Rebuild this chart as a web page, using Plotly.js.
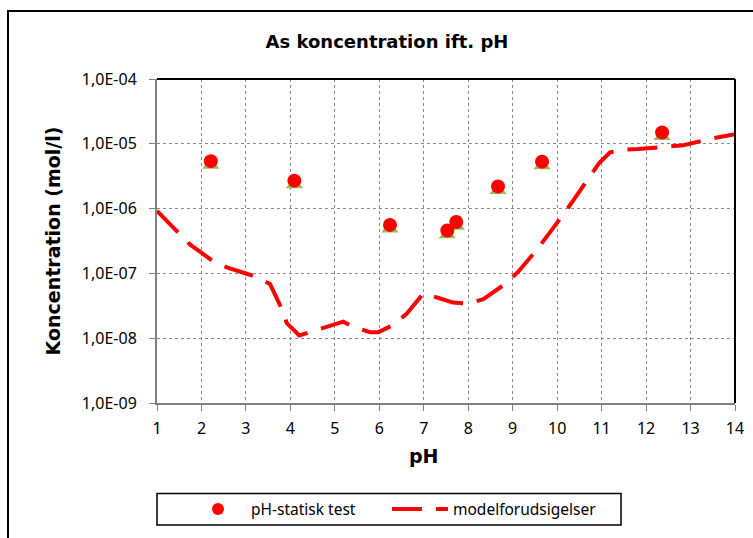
<!DOCTYPE html>
<html>
<head>
<meta charset="utf-8">
<script src="https://cdn.plot.ly/plotly-3.0.1.min.js"></script>
<style>
html,body{margin:0;padding:0;background:#fff;}
#chart{width:753px;height:538px;}
</style>
</head>
<body>
<div id="chart"></div>
<script>
// ---- data ----
const testPH   = [2.21, 4.09, 6.24, 7.53, 7.73, 8.67, 9.66, 12.36];
const testConc = [5.4e-6, 2.7e-6, 5.6e-7, 4.6e-7, 6.2e-7, 2.2e-6, 5.3e-6, 1.5e-5];

const modelPH   = [1.0, 1.44, 1.74, 2.23, 2.57, 3.2, 3.54, 3.80, 3.92, 4.2, 4.44, 5.19, 5.41, 5.79, 5.98,
                   6.32, 6.62, 6.99, 7.37, 7.66, 8.0, 8.34, 8.86, 9.13, 9.54, 9.77, 10.16, 10.36, 10.74,
                   10.94, 11.19, 11.49, 11.83, 12.5, 12.84, 13.48, 14.0];
const modelConc = [9.2e-7, 4.5e-7, 2.8e-7, 1.6e-7, 1.24e-7, 9.0e-8, 6.9e-8, 2.9e-8, 1.7e-8, 1.1e-8, 1.23e-8,
                   1.8e-8, 1.5e-8, 1.24e-8, 1.24e-8, 1.6e-8, 2.4e-8, 4.9e-8, 4.1e-8, 3.55e-8, 3.4e-8, 4.0e-8,
                   7.1e-8, 1.07e-7, 2.3e-7, 3.7e-7, 8.5e-7, 1.33e-6, 3.2e-6, 5.0e-6, 7.4e-6, 8.1e-6, 8.3e-6,
                   9.0e-6, 9.5e-6, 1.21e-5, 1.41e-5];

const xTickVals = [1, 2, 3, 4, 5, 6, 7, 8, 9, 10, 11, 12, 13, 14];
const yTickVals = [1e-9, 1e-8, 1e-7, 1e-6, 1e-5, 1e-4];
const yTickText = ["1,0E-09", "1,0E-08", "1,0E-07", "1,0E-06", "1,0E-05", "1,0E-04"];

const seriesNames = ["pH-statisk test", "modelforudsigelser"];
const chartTitle = "As koncentration ift. pH";
const xTitle = "pH";
const yTitle = "Koncentration (mol/l)";

// ---- layout geometry (pixels) ----
const W = 753, H = 538;
const L = 157, R = 735, T = 79, B = 408;
const px = v => (v - L) / (R - L);
const py = v => (B - v) / (B - T);
const decadePx = (B - T) / 5;
const triShift = 4 / decadePx; // triangles drawn a few px lower, as in the reference

const tickFont = {family: "Noto Sans, sans-serif", size: 16, color: "#000"};
const boldFont = {family: "DejaVu Sans, sans-serif", weight: 700, color: "#000"};
const legendFont = {family: "Noto Sans, sans-serif", size: 15.5, color: "#000"};

const traces = [
  {
    x: testPH, y: testConc, type: "scatter", mode: "markers",
    xaxis: "x", yaxis: "y2", showlegend: false, hoverinfo: "skip",
    marker: {symbol: "triangle-up", size: 15, color: "#9BBB59"}
  },
  {
    x: testPH, y: testConc, type: "scatter", mode: "markers", name: seriesNames[0],
    xaxis: "x", yaxis: "y3", legend: "legend",
    marker: {symbol: "circle", size: 14, color: "#FF0000"}
  },
  {
    x: modelPH, y: modelConc, type: "scatter", mode: "lines", name: seriesNames[1],
    xaxis: "x", yaxis: "y", legend: "legend2",
    line: {color: "#FF0000", width: 4, dash: "30px,14px"}
  }
];

const axisCommon = {
  showgrid: true, gridcolor: "#8a8a8a", griddash: "dot", gridwidth: 1,
  showline: true, linecolor: "#808080", linewidth: 2,
  ticks: "outside", ticklen: 6, tickcolor: "#808080", tickwidth: 1,
  tickfont: tickFont, zeroline: false, fixedrange: true
};

const legendCommon = {
  orientation: "h", xanchor: "left", y: py(516), yanchor: "middle",
  bgcolor: "rgba(0,0,0,0)", borderwidth: 0, font: legendFont, itemwidth: 56
};

const layout = {
  width: W, height: H,
  margin: {l: L, r: W - R, t: T, b: H - B, pad: 0},
  paper_bgcolor: "#fff", plot_bgcolor: "#fff",
  title: {
    text: chartTitle, font: Object.assign({size: 18}, boldFont),
    xref: "container", x: 387 / W, xanchor: "center",
    yref: "container", y: 1 - 42 / H, yanchor: "middle"
  },
  xaxis: Object.assign({}, axisCommon, {
    range: [1, 14], tickmode: "array", tickvals: xTickVals, ticklabelstandoff: 4
  }),
  yaxis: Object.assign({}, axisCommon, {
    type: "log", range: [-9, -4], tickmode: "array", tickvals: yTickVals, ticktext: yTickText,
    ticklabelstandoff: 9,
    title: {text: yTitle, font: Object.assign({size: 19}, boldFont), standoff: 16}
  }),
  yaxis2: {
    type: "log", range: [-9 + triShift, -4 + triShift], overlaying: "y",
    showgrid: false, showline: false, showticklabels: false, ticks: "", zeroline: false, fixedrange: true
  },
  yaxis3: {
    type: "log", range: [-9, -4], overlaying: "y",
    showgrid: false, showline: false, showticklabels: false, ticks: "", zeroline: false, fixedrange: true
  },
  showlegend: true,
  legend: Object.assign({}, legendCommon, {x: px(185), itemsizing: "constant"}),
  legend2: Object.assign({}, legendCommon, {x: px(387)}),
  annotations: [
    {text: xTitle, xref: "paper", yref: "paper", x: px(424), y: py(461.5),
     xanchor: "center", yanchor: "middle", showarrow: false,
     font: Object.assign({size: 19}, boldFont)}
  ],
  shapes: [
    {type: "line", xref: "paper", yref: "paper", x0: 0, x1: 1, y0: 1, y1: 1, line: {color: "#000", width: 2}},
    {type: "line", xref: "paper", yref: "paper", x0: 1, x1: 1, y0: 0, y1: 1, line: {color: "#000", width: 2}},
    {type: "rect", xref: "paper", yref: "paper", x0: px(8), x1: px(800), y0: py(600), y1: py(10),
     line: {color: "#000", width: 2}, fillcolor: "rgba(0,0,0,0)"},
    {type: "rect", xref: "paper", yref: "paper", x0: px(157), x1: px(621), y0: py(532), y1: py(500),
     line: {color: "#000", width: 1.5}, fillcolor: "rgba(0,0,0,0)"}
  ]
};

Plotly.newPlot("chart", traces, layout, {staticPlot: true, displayModeBar: false});
</script>
</body>
</html>
